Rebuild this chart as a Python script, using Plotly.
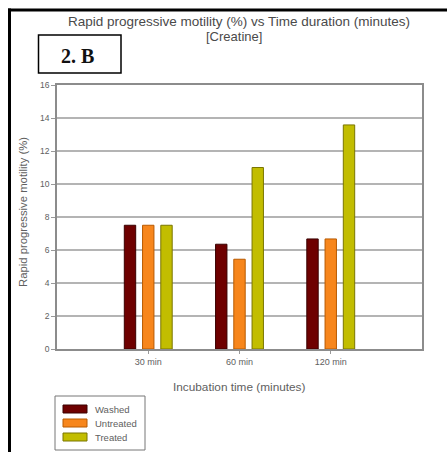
import plotly.graph_objects as go

categories = ["30 min", "60 min", "120 min"]
series_names = ["Washed", "Untreated", "Treated"]
washed = [7.5, 6.35, 6.67]
untreated = [7.5, 5.44, 6.67]
treated = [7.5, 11.0, 13.58]
series_values = [washed, untreated, treated]
colors = ["#6e0000", "#f7861c", "#c2bd00"]
line_colors = ["#3a0000", "#b85a00", "#7a7600"]
y_ticks = [0, 2, 4, 6, 8, 10, 12, 14, 16]

W_FIG, H_FIG = 447, 452
L, R, T, B = 57, 422, 85, 349
PW, PH = R - L, B - T


def xp(px):
    return (px - L) / PW


def yp(py):
    return (B - py) / PH


fig = go.Figure()
x_idx = list(range(len(categories)))
slot = 0.2
bw = 0.125
for i, (name, vals) in enumerate(zip(series_names, series_values)):
    fig.add_trace(go.Bar(
        x=x_idx, y=vals, name=name,
        width=bw, offset=(i - 1) * slot - bw / 2,
        marker=dict(color=colors[i], line=dict(color=line_colors[i], width=1)),
        showlegend=False,
    ))

font_main = "Liberation Sans, Arial, sans-serif"
txt = "#606060"

fig.update_layout(
    width=W_FIG, height=H_FIG,
    margin=dict(l=L, r=W_FIG - R, t=T, b=H_FIG - B, pad=0),
    paper_bgcolor="white", plot_bgcolor="white",
    font=dict(family=font_main, color=txt),
    barmode="overlay",
    xaxis=dict(
        range=[-1.0, 3.0], tickvals=x_idx, ticktext=categories,
        tickfont=dict(size=9, color=txt),
        ticks="outside", ticklen=3, tickcolor="#999999",
        showline=True, linecolor="#8c8c8c", linewidth=1.5, mirror=True,
        showgrid=False, zeroline=False,
    ),
    yaxis=dict(
        range=[0, 16], tickvals=y_ticks,
        tickfont=dict(size=8.5, color=txt),
        ticks="outside", ticklen=4, tickcolor="#999999",
        showline=True, linecolor="#8c8c8c", linewidth=1.5, mirror=True,
        showgrid=True, gridcolor="#b4b4b4", gridwidth=1.5,
        zeroline=False,
    ),
)

annotations = [
    dict(text="Rapid progressive motility (%) vs Time duration (minutes)",
         x=xp(239), y=yp(21), font=dict(size=13.5, color="#4a4a4a")),
    dict(text="[Creatine]", x=xp(234), y=yp(36), font=dict(size=13, color="#4a4a4a")),
    dict(text="Rapid progressive motility (%)", x=xp(23), y=yp(212), textangle=-90,
         font=dict(size=11.3, color=txt)),
    dict(text="Incubation time (minutes)", x=xp(239), y=yp(387),
         font=dict(size=11.8, color=txt)),
    dict(text="<b>2. B</b>", x=xp(77), y=yp(56),
         font=dict(size=20, color="#111111", family="Liberation Serif, Times New Roman, serif")),
]

# legend
leg_rows = [409, 423, 437]
for name, c, lc, ry in zip(series_names, colors, line_colors, leg_rows):
    annotations.append(dict(text=name, x=xp(93), y=yp(ry), xanchor="left",
                            font=dict(size=9.5, color=txt)))

for a in annotations:
    a.setdefault("xanchor", "center")
    a.update(xref="paper", yref="paper", yanchor="middle", showarrow=False)
fig.update_layout(annotations=annotations)

shapes = [
    # outer frame lines (top and left)
    dict(type="line", x0=xp(8), x1=xp(447), y0=yp(10), y1=yp(10),
         line=dict(color="black", width=3)),
    dict(type="line", x0=xp(9.5), x1=xp(9.5), y0=yp(8.5), y1=yp(452),
         line=dict(color="black", width=3)),
    # 2.B box
    dict(type="rect", x0=xp(38.5), x1=xp(121), y0=yp(35), y1=yp(73),
         line=dict(color="black", width=1.5), fillcolor="white"),
    # legend box
    dict(type="rect", x0=xp(55), x1=xp(145), y0=yp(396), y1=yp(450),
         line=dict(color="#777777", width=1), fillcolor="white", layer="below"),
]
for c, lc, ry in zip(colors, line_colors, leg_rows):
    shapes.append(dict(type="rect", x0=xp(63), x1=xp(87), y0=yp(ry - 4), y1=yp(ry + 4),
                       fillcolor=c, line=dict(color=lc, width=1)))
for s in shapes:
    s.update(xref="paper", yref="paper")
fig.update_layout(shapes=shapes)

fig.write_html("out.html")
